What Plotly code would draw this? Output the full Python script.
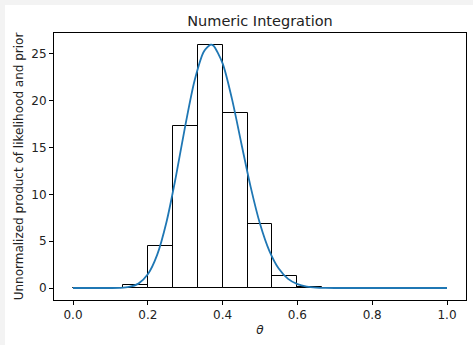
import plotly.graph_objects as go

# Bar data (midpoint rule, 15 bins of width 1/15)
bar_mid = [(k + 0.5) / 15 for k in range(15)]
bar_height = [0.0, 0.0015, 0.31, 4.5, 17.3, 26.0, 18.7, 6.86, 1.27, 0.11, 0.004, 0.0, 0.0, 0.0, 0.0]
bar_width = 1 / 15

# Curve points
theta = [0.0, 0.05, 0.1, 0.125, 0.15, 0.175, 0.2, 0.225, 0.25, 0.275, 0.3, 0.325, 0.35,
         0.3684, 0.375, 0.4, 0.425, 0.45, 0.475, 0.5, 0.525, 0.55, 0.575, 0.6, 0.625,
         0.65, 0.675, 0.7, 0.75, 0.8, 0.9, 1.0]
density = [0.0, 0.0, 0.0015, 0.017, 0.11, 0.47, 1.46, 3.54, 7.05, 11.87, 17.3, 22.15, 25.27,
           26.0, 25.91, 24.0, 20.2, 15.47, 10.8, 6.86, 3.97, 2.08, 0.98, 0.416, 0.156,
           0.052, 0.016, 0.004, 0.0, 0.0, 0.0, 0.0]

x_ticks = [0.0, 0.2, 0.4, 0.6, 0.8, 1.0]
x_tick_text = ["0.0", "0.2", "0.4", "0.6", "0.8", "1.0"]
y_ticks = [0, 5, 10, 15, 20, 25]

W, H = 473, 345
ML, MR, MT, MB = 54, 7, 33, 45
PW, PH = W - ML - MR, H - MT - MB

fig = go.Figure()
fig.add_trace(go.Bar(x=bar_mid, y=bar_height, width=bar_width,
                     marker=dict(color="rgba(255,255,255,0)", line=dict(color="black", width=1)),
                     showlegend=False, hoverinfo="skip"))
fig.add_trace(go.Scatter(x=theta, y=density, mode="lines",
                         line=dict(color="#1f77b4", width=1.8, shape="spline", smoothing=0.8),
                         showlegend=False))

axis_common = dict(showgrid=False, zeroline=False, showline=True, linecolor="black",
                   linewidth=1, mirror=True, ticks="outside", ticklen=4, tickwidth=1,
                   tickcolor="black", tickfont=dict(size=12, color="#222"))

# faint grey strips along the left and top edges of the picture
shapes = [
    dict(type="rect", xref="paper", yref="paper", layer="below",
         x0=-ML / PW, x1=(-ML + 5) / PW, y0=-MB / PH, y1=1 + MT / PH,
         fillcolor="#f3f3f3", line=dict(width=0)),
    dict(type="rect", xref="paper", yref="paper", layer="below",
         x0=-ML / PW, x1=1 + MR / PW, y0=1 + (MT - 5) / PH, y1=1 + MT / PH,
         fillcolor="#f3f3f3", line=dict(width=0)),
]

fig.update_layout(
    width=W, height=H,
    margin=dict(l=ML, r=MR, t=MT, b=MB),
    paper_bgcolor="white", plot_bgcolor="white",
    font=dict(family="DejaVu Sans", color="#222"),
    title=dict(text="Numeric Integration", x=0.5, xanchor="center", xref="paper",
               y=1 - 21 / H, yanchor="middle", font=dict(size=14.5)),
    xaxis=dict(range=[-0.0508, 1.0508], tickvals=x_ticks, ticktext=x_tick_text,
               title=dict(text="<i>θ</i>", font=dict(size=12), standoff=4), **axis_common),
    yaxis=dict(range=[-1.28, 27.24], tickvals=y_ticks,
               title=dict(text="Unnormalized product of likelihood and prior",
                          font=dict(size=12), standoff=5), **axis_common),
    bargap=0,
    shapes=shapes,
)

fig.write_html("out.html")
